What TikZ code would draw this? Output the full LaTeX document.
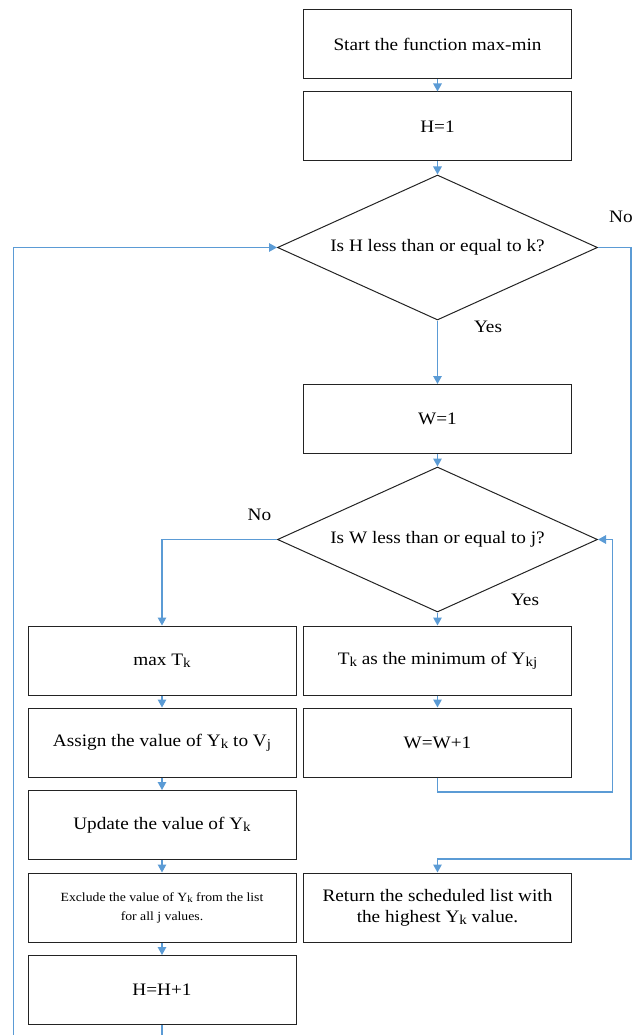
\documentclass[tikz,border=0pt]{standalone}
\usepackage{fontspec}
\usepackage{graphicx}
\setmainfont{Liberation Serif}[FakeStretch=1.1]
\usetikzlibrary{shapes.geometric,arrows.meta}
\definecolor{flowblue}{RGB}{91,155,213}
\definecolor{boxline}{RGB}{35,35,35}
% lowered, reduced index letters as in Yk, Tk, Vj
\newcommand\lowsub[1]{\raisebox{-0.25ex}{\scalebox{0.78}{#1}}}

\begin{document}
\begin{tikzpicture}[x=1pt,y=-1pt,
  box/.style={draw=boxline,line width=1pt,minimum width=268pt,minimum height=69pt,
    inner sep=0pt,align=center,font=\fontsize{17.5}{21}\selectfont},
  smallbox/.style={box,font=\fontsize{12.5}{19}\selectfont},
  decision/.style={diamond,draw=boxline,line width=1pt,minimum width=320pt,
    minimum height=145pt,aspect=2.2,inner sep=0pt,align=center,
    font=\fontsize{17.5}{21}\selectfont},
  flow/.style={draw=flowblue,line width=1.3pt,-{Triangle[length=8pt,width=8.5pt]}},
  lbl/.style={font=\fontsize{17.5}{21}\selectfont,inner sep=0pt}]
\useasboundingbox (0,0) rectangle (638,1035);

% main column
\node[box] (start) at (437.5,44) {Start the function max-min};
\node[box] (h1) at (437.5,126.5) {H=1};
\node[decision] (d1) at (437.5,247.5) {Is H less than or equal to k?};
\node[box] (w1) at (437.5,419) {W=1};
\node[decision] (d2) at (437.5,539.5) {Is W less than or equal to j?};

% inner loop (right column)
\node[box] (tk) at (437.5,660.5) {T\lowsub{k} as the minimum of Y\lowsub{kj}};
\node[box] (ww) at (437.5,742.5) {W=W+1};
\node[box] (ret) at (437.5,907.5) {Return the scheduled list with\\the highest Y\lowsub{k} value.};

% outer loop body (left column)
\node[box] (maxT) at (162,660.5) {max T\lowsub{k}};
\node[box] (assign) at (162,742.5) {Assign the value of Y\lowsub{k} to V\lowsub{j}};
\node[box] (update) at (162,825) {Update the value of Y\lowsub{k}};
\node[smallbox] (exclude) at (162,907.5) {Exclude the value of Y\lowsub{k} from the list\\for all j values.};
\node[box] (hh) at (162,990) {H=H+1};

% bend points of the loop connectors
\coordinate (noH) at (631,859);
\coordinate (wloop) at (612.5,792);
\coordinate (hloop) at (13.3,1050);

% connectors
\draw[flow] (start) -- (h1);
\draw[flow] (h1) -- (d1);
\draw[flow] (d1) -- (w1);
\draw[flow] (w1) -- (d2);
\draw[flow] (d2.south) -- (tk.north);
\draw[flow] (tk) -- (ww);
\draw[flow] (ww.south) |- (wloop) |- (d2.east);
\draw[flow] (d2.west) -| (maxT.north);
\draw[flow] (maxT) -- (assign);
\draw[flow] (assign) -- (update);
\draw[flow] (update) -- (exclude);
\draw[flow] (exclude) -- (hh);
\draw[flow] (hh.south) |- (hloop) |- (d1.west);
\draw[flow] (d1.east) -| (noH) -| (ret.north);

% branch labels
\node[lbl] (no1) at (621,217) {No};
\node[lbl] (yes1) at (488,327) {Yes};
\node[lbl] (no2) at (259.5,515) {No};
\node[lbl] (yes2) at (525,600) {Yes};
\end{tikzpicture}
\end{document}
